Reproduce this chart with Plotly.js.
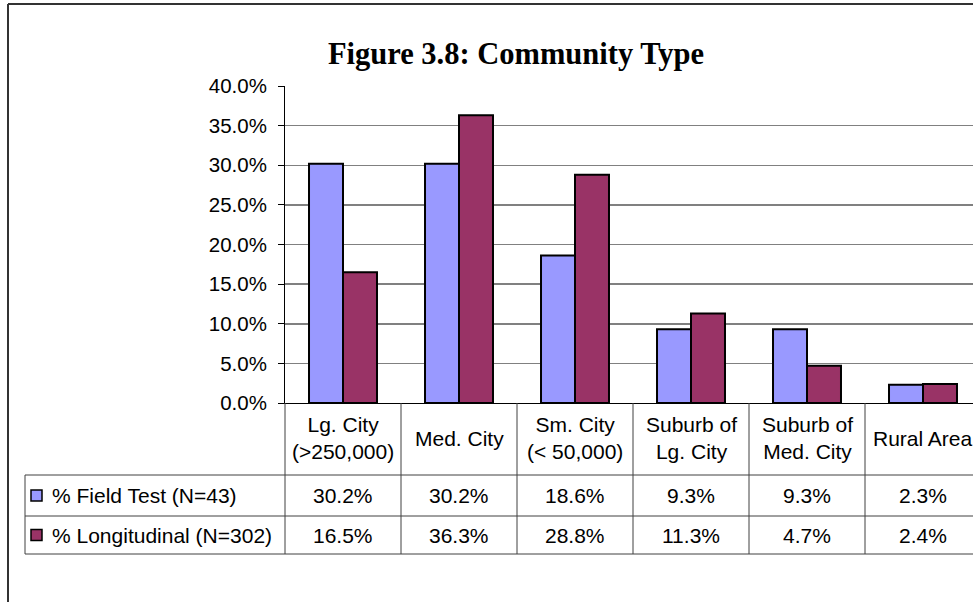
<!DOCTYPE html>
<html>
<head>
<meta charset="utf-8">
<script src="https://cdn.plot.ly/plotly-3.0.1.min.js"></script>
<style>
html,body{margin:0;padding:0;overflow:hidden;background:#fff;}
#chart{width:1000px;height:602px;}
</style>
</head>
<body>
<div id="chart"></div>
<script>
var categories = ["Lg. City<br>(>250,000)", "Med. City", "Sm. City<br>(< 50,000)", "Suburb of<br>Lg. City", "Suburb of<br>Med. City", "Rural Area"];
var seriesNames = ["% Field Test (N=43)", "% Longitudinal (N=302)"];
var fieldTest = [30.2, 30.2, 18.6, 9.3, 9.3, 2.3];
var longitudinal = [16.5, 36.3, 28.8, 11.3, 4.7, 2.4];
var seriesColors = ["#9999FF", "#993366"];
var yTicks = [0, 5, 10, 15, 20, 25, 30, 35, 40];

var W = 1000, H = 602;
var L = 285, R = 981, T = 86, B = 403;
function xp(px){ return (px - L) / (R - L); }
function yp(py){ return (B - py) / (B - T); }

var idx = categories.map(function(_, i){ return i; });
var seriesData = [fieldTest, longitudinal];

var traces = seriesData.map(function(vals, s){
  return {
    type: 'bar', x: idx, y: vals, name: seriesNames[s],
    marker: {color: seriesColors[s], line: {color: '#000', width: 2}},
    hoverinfo: 'y'
  };
});

var font = {family: 'Liberation Sans, Arial, sans-serif', size: 21, color: '#000'};
var tickFont = {family: 'Liberation Sans, Arial, sans-serif', size: 20.5, color: '#000'};
var lineCol = '#404040';
var shapes = [];
var annotations = [];

// outer chart border
shapes.push({type:'line', xref:'paper', yref:'paper', x0:xp(8), x1:xp(8), y0:yp(4), y1:yp(610), line:{color:'#333', width:2}});
shapes.push({type:'line', xref:'paper', yref:'paper', x0:xp(8), x1:xp(1000), y0:yp(4), y1:yp(4), line:{color:'#333', width:2}});

// table rows
var rowTops = [475, 516, 554];
rowTops.forEach(function(py){
  shapes.push({type:'line', xref:'paper', yref:'paper', x0:xp(25), x1:xp(1000), y0:yp(py), y1:yp(py), line:{color:lineCol, width:1}});
});
// left border of legend column
shapes.push({type:'line', xref:'paper', yref:'paper', x0:xp(25), x1:xp(25), y0:yp(475), y1:yp(554), line:{color:lineCol, width:1}});
// vertical column lines (axis line continues down)
for (var i = 0; i <= categories.length; i++){
  shapes.push({type:'line', xref:'paper', yref:'paper', x0:xp(L + i*(R-L)/categories.length), x1:xp(L + i*(R-L)/categories.length), y0:yp(403), y1:yp(554), line:{color:lineCol, width:1}});
}

// header labels
categories.forEach(function(c, i){
  annotations.push({xref:'x', yref:'paper', x:i, y:yp(438), text:c, showarrow:false, font:font, xanchor:'center', yanchor:'middle'});
});
// value rows
var rowCenters = [495.5, 535];
seriesData.forEach(function(vals, s){
  vals.forEach(function(v, i){
    annotations.push({xref:'x', yref:'paper', x:i, y:yp(rowCenters[s]), text:v.toFixed(1)+'%', showarrow:false, font:font, xanchor:'center', yanchor:'middle'});
  });
  // legend key
  shapes.push({type:'rect', xref:'paper', yref:'paper', x0:xp(31), x1:xp(42), y0:yp(rowCenters[s]-5.5), y1:yp(rowCenters[s]+5.5), fillcolor:seriesColors[s], line:{color:'#000', width:1.5}});
  annotations.push({xref:'paper', yref:'paper', x:xp(50), y:yp(rowCenters[s]), text:seriesNames[s], showarrow:false, font:font, xanchor:'left', yanchor:'middle'});
});

var layout = {
  width: W, height: H,
  margin: {l: L, r: W - R, t: T, b: H - B, pad: 0},
  paper_bgcolor: '#fff', plot_bgcolor: '#fff',
  showlegend: false,
  bargap: 0.414, bargroupgap: 0,
  barmode: 'group',
  title: {text: 'Figure 3.8: Community Type', x: 516 / W, xref: 'container', xanchor: 'center', y: 1 - 53 / H, yanchor: 'middle',
          font: {family: 'Liberation Serif, Times New Roman, serif', size: 30.5, color: '#000', weight: 'bold'}},
  xaxis: {type: 'linear', range: [-0.5, categories.length - 0.5], showticklabels: false, ticks: '', showgrid: false, zeroline: false,
          showline: true, linecolor: '#000', linewidth: 1, fixedrange: true},
  yaxis: {range: [0, 40], tickvals: yTicks, ticktext: yTicks.map(function(t){ return t.toFixed(1) + '%'; }),
          ticks: 'outside', ticklen: 6, tickcolor: '#000', tickwidth: 1, ticklabelstandoff: 7,
          showline: true, linecolor: '#000', linewidth: 1,
          showgrid: true, gridcolor: '#808080', gridwidth: 1.5, zeroline: false,
          tickfont: tickFont, fixedrange: true},
  shapes: shapes,
  annotations: annotations
};

Plotly.newPlot('chart', traces, layout, {displayModeBar: false, staticPlot: true});
</script>
</body>
</html>
